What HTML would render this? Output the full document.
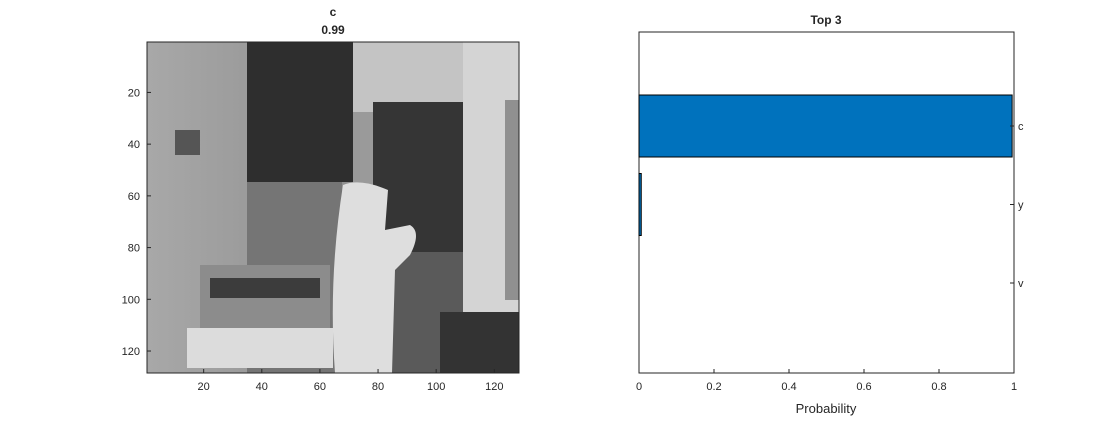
<!DOCTYPE html>
<html><head><meta charset="utf-8"><style>
body{margin:0;background:#fff;font-family:"Liberation Sans",sans-serif;}
svg text{font-family:"Liberation Sans",sans-serif;fill:#262626;}
</style></head><body>
<svg width="1120" height="420" xmlns="http://www.w3.org/2000/svg">
<rect width="1120" height="420" fill="#fff"/>
<g>
 <defs><clipPath id="ic"><rect x="147" y="42" width="372" height="331"/></clipPath>
 <linearGradient id="wall" x1="0" x2="1"><stop offset="0" stop-color="#a8a8a8"/><stop offset="1" stop-color="#7a7a7a"/></linearGradient></defs>
 <g clip-path="url(#ic)">
  <rect x="147" y="42" width="372" height="331" fill="url(#wall)"/>
  <rect x="247" y="182" width="95" height="191" fill="#757575"/>
  <rect x="247" y="42" width="106" height="140" fill="#2e2e2e"/>
  <rect x="353" y="42" width="110" height="70" fill="#c4c4c4"/>
  <rect x="353" y="112" width="20" height="140" fill="#9a9a9a"/>
  <rect x="373" y="102" width="90" height="150" fill="#353535"/>
  <rect x="373" y="252" width="90" height="121" fill="#5a5a5a"/>
  <rect x="463" y="42" width="56" height="270" fill="#d4d4d4"/>
  <rect x="505" y="100" width="14" height="200" fill="#909090"/>
  <rect x="440" y="312" width="79" height="61" fill="#333"/>
  <rect x="200" y="265" width="130" height="65" fill="#8c8c8c"/>
  <rect x="210" y="278" width="110" height="20" fill="#3c3c3c"/>
  <rect x="187" y="328" width="146" height="40" fill="#dcdcdc"/>
  <rect x="175" y="130" width="25" height="25" fill="#555"/>
  <path d="M343 185 Q360 178 388 190 L385 230 L410 225 Q422 232 410 255 L395 270 L392 373 L335 373 Q328 280 343 185 Z" fill="#dedede"/>
 </g>
 <rect x="147" y="42" width="372" height="331" fill="none" stroke="#262626" stroke-width="1"/>
 <text x="333" y="16" text-anchor="middle" font-size="12" font-weight="bold">c</text>
 <text x="333" y="34" text-anchor="middle" font-size="12" font-weight="bold">0.99</text>
 <g id="imgticks"></g>
</g>
<g>
 <rect x="639" y="32" width="375" height="341" fill="#fff" stroke="#262626" stroke-width="1"/>
 <g id="bars"></g>
 <text x="826" y="24" text-anchor="middle" font-size="12" font-weight="bold">Top 3</text>
 <text x="826" y="413" text-anchor="middle" font-size="13">Probability</text>
</g>
</svg>
<script>
const categories=["c","y","v"];
const probs=[0.995,0.006,0];
const xTicks=[0,0.2,0.4,0.6,0.8,1];
const xTickLabels=["0","0.2","0.4","0.6","0.8","1"];
const imgTicks=[20,40,60,80,100,120];
const NS="http://www.w3.org/2000/svg";
function el(t,a,p){const e=document.createElementNS(NS,t);for(const k in a)e.setAttribute(k,a[k]);p.appendChild(e);return e;}
const X0=639,X1=1014,Y0=32,Y1=373;
const px=v=>X0+(X1-X0)*v;
const cy=i=>126+i*78.5;
const bg=document.getElementById('bars');
categories.forEach((c,i)=>{
 if(probs[i]>0){
  const r=el('rect',{x:px(0),y:cy(i)-31,width:px(probs[i])-px(0),height:62,fill:'#0072bd',stroke:'#000','stroke-width':1},bg);
  
  
 }
 const t=el('text',{x:1018,y:cy(i)+4,'font-size':11},bg);t.textContent=c;
 
 
 el('line',{x1:X1,x2:X1-4,y1:cy(i),y2:cy(i),stroke:'#262626'},bg);
});
xTicks.forEach((v,i)=>{
 el('line',{x1:px(v),x2:px(v),y1:Y1,y2:Y1-4,stroke:'#262626'},bg);
 const t=el('text',{x:px(v),y:390,'font-size':11,'text-anchor':'middle'},bg);t.textContent=xTickLabels[i];
 
 
});
const ig=document.getElementById('imgticks');
const ix=v=>147+(v-0.5)*372/128, iy=v=>42+(v-0.5)*331/128;
imgTicks.forEach(v=>{
 el('line',{x1:147,x2:151,y1:iy(v),y2:iy(v),stroke:'#262626'},ig);
 el('line',{x1:ix(v),x2:ix(v),y1:373,y2:369,stroke:'#262626'},ig);
 const a=el('text',{x:140,y:iy(v)+4,'font-size':11,'text-anchor':'end'},ig);a.textContent=v;
 
 
 const b=el('text',{x:ix(v),y:390,'font-size':11,'text-anchor':'middle'},ig);b.textContent=v;
 
 
});
</script>
</body></html>
